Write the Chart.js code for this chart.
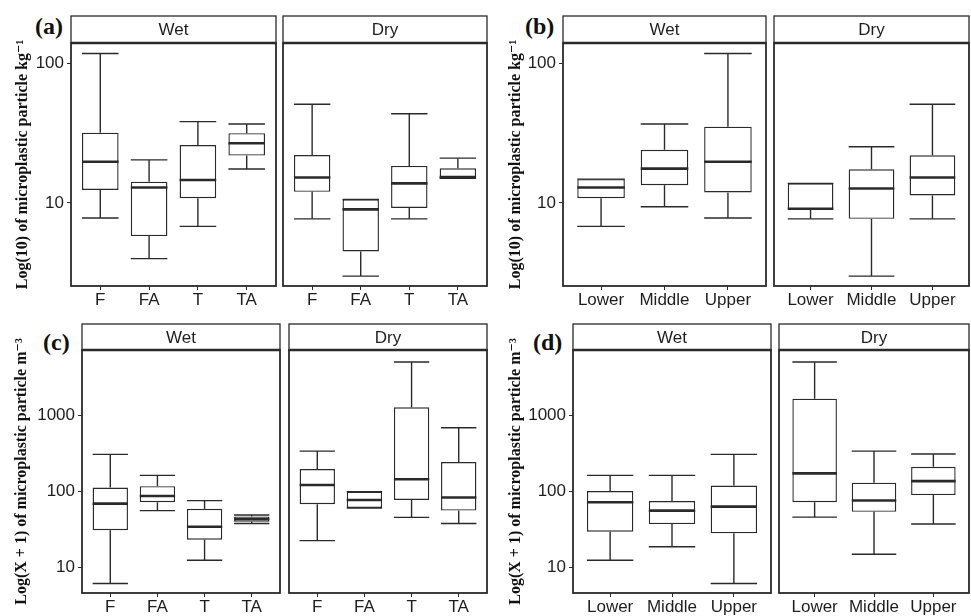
<!DOCTYPE html>
<html>
<head>
<meta charset="utf-8">
<script src="https://cdn.jsdelivr.net/npm/chart.js@4.4.1/dist/chart.umd.min.js"></script>
<style>
  body { margin: 0; background: #fff; width: 971px; height: 616px; position: relative; overflow: hidden; }
  canvas { position: absolute; }
  .tag { position: absolute; font-family: 'Liberation Serif', serif; font-weight: bold; font-size: 24px; color: #111; line-height: 1; }
</style>
</head>
<body>
<div class="tag" style="left:35px;top:14px">(a)</div>
<div class="tag" style="left:525px;top:14px">(b)</div>
<div class="tag" style="left:43px;top:330px">(c)</div>
<div class="tag" style="left:533px;top:330px">(d)</div>
<script>
const siteCats = ['F', 'FA', 'T', 'TA'];
const zoneCats = ['Lower', 'Middle', 'Upper'];
const kgTicks = [10, 100];
const m3Ticks = [10, 100, 1000];
const kgTitle = 'Log(10) of microplastic particle kg\u207B\u00B9';
const m3Title = 'Log(X + 1) of microplastic particle m\u207B\u00B3';

// each row: [min, q1, median, q3, max]
const aWet = [[7.8, 12.4, 19.7, 31.8, 117], [4.0, 5.8, 12.9, 14.2, 20.3], [6.8, 10.8, 14.6, 25.9, 38.1], [17.5, 21.8, 26.7, 31.5, 36.7]];
const aDry = [[7.7, 12.0, 15.2, 22.0, 50.7], [3.0, 4.5, 9.0, 10.6, 10.6], [7.7, 9.2, 13.8, 18.4, 43.4], [15.0, 15.0, 15.3, 17.7, 20.9]];
const bWet = [[6.8, 10.8, 12.9, 14.8, 14.8], [9.4, 13.4, 17.6, 24.0, 36.7], [7.8, 11.9, 19.7, 35.1, 117]];
const bDry = [[7.7, 9.0, 9.1, 13.8, 13.8], [3.0, 7.7, 12.7, 17.4, 25.2], [7.7, 11.3, 15.2, 21.9, 50.7]];
const cWet = [[6.2, 31, 69, 112, 305], [56, 72, 87, 117, 162], [12.5, 23.3, 34.4, 59, 75.5], [38, 40, 43.5, 47, 49]];
const cDry = [[22.6, 68, 121, 196, 337], [60.5, 60.5, 77, 99, 99], [45.6, 77, 144, 1260, 4940], [38, 56, 83, 242, 682]];
const dWet = [[12.5, 29.6, 72, 101, 162], [18.8, 37.3, 56, 74.7, 162], [6.2, 28.2, 63, 119, 305]];
const dDry = [[46, 72, 172, 1636, 4940], [15, 54, 76, 130, 337], [37.3, 89.5, 136, 210, 308]];

const LINE = '#2a2a2a';
const TEXT = '#1e1e1e';
const SANS = "'Liberation Sans', Arial, sans-serif";
const SERIF = "'Liberation Serif', 'DejaVu Serif', serif";
const X_AXIS_H = 26;
const BOX_W = 0.75;

const facets = [
  { cats: siteCats, stats: aWet, strip: 'Wet', ticks: kgTicks, yMin: 2.55, yMax: 139, title: kgTitle, axisLeft: 13, stripTop: 16, plotTop: 43, plotBottom: 286, plotL: 71, plotR: 276 },
  { cats: siteCats, stats: aDry, strip: 'Dry', ticks: kgTicks, yMin: 2.55, yMax: 139, stripTop: 16, plotTop: 43, plotBottom: 286, plotL: 283, plotR: 487 },
  { cats: zoneCats, stats: bWet, strip: 'Wet', ticks: kgTicks, yMin: 2.55, yMax: 139, title: kgTitle, axisLeft: 506, stripTop: 16, plotTop: 43, plotBottom: 286, plotL: 563, plotR: 766 },
  { cats: zoneCats, stats: bDry, strip: 'Dry', ticks: kgTicks, yMin: 2.55, yMax: 139, stripTop: 16, plotTop: 43, plotBottom: 286, plotL: 774, plotR: 969 },
  { cats: siteCats, stats: cWet, strip: 'Wet', ticks: m3Ticks, yMin: 4.66, yMax: 7110, title: m3Title, axisLeft: 12, stripTop: 324, plotTop: 350, plotBottom: 593, plotL: 82, plotR: 280 },
  { cats: siteCats, stats: cDry, strip: 'Dry', ticks: m3Ticks, yMin: 4.66, yMax: 7110, stripTop: 324, plotTop: 350, plotBottom: 593, plotL: 289, plotR: 487 },
  { cats: zoneCats, stats: dWet, strip: 'Wet', ticks: m3Ticks, yMin: 4.66, yMax: 7110, title: m3Title, axisLeft: 506, stripTop: 324, plotTop: 350, plotBottom: 593, plotL: 573, plotR: 771 },
  { cats: zoneCats, stats: dDry, strip: 'Dry', ticks: m3Ticks, yMin: 4.66, yMax: 7110, stripTop: 324, plotTop: 350, plotBottom: 593, plotL: 779, plotR: 969 }
];

function line(ctx, x1, y1, x2, y2) {
    ctx.beginPath();
    ctx.moveTo(x1, y1);
    ctx.lineTo(x2, y2);
    ctx.stroke();
}

// strip, whiskers, medians and panel frame, all placed through the chart's scales
function facetPlugin(f) {
    return {
        id: 'facet',
        beforeDatasetsDraw(chart) {
            const ctx = chart.ctx;
            const ca = chart.chartArea;
            const xs = chart.scales.x;
            const ys = chart.scales.y;
            ctx.save();
            // strip
            ctx.fillStyle = '#fff';
            ctx.fillRect(ca.left, 1, ca.right - ca.left, ca.top - 1);
            ctx.strokeStyle = LINE;
            ctx.lineWidth = 1.3;
            ctx.strokeRect(ca.left, 1, ca.right - ca.left, ca.top - 1);
            ctx.fillStyle = TEXT;
            ctx.font = '17px ' + SANS;
            ctx.textAlign = 'center';
            ctx.textBaseline = 'middle';
            ctx.fillText(f.strip, (ca.left + ca.right) / 2, (ca.top + 1) / 2 + 1);
            // whiskers
            ctx.lineWidth = 1.4;
            f.stats.forEach((s, i) => {
                const x = xs.getPixelForValue(i + 1);
                const hw = xs.getPixelForValue(i + 1 + BOX_W / 2) - x;
                line(ctx, x, ys.getPixelForValue(s[4]), x, ys.getPixelForValue(s[3]));
                line(ctx, x, ys.getPixelForValue(s[1]), x, ys.getPixelForValue(s[0]));
                line(ctx, x - hw, ys.getPixelForValue(s[4]), x + hw, ys.getPixelForValue(s[4]));
                line(ctx, x - hw, ys.getPixelForValue(s[0]), x + hw, ys.getPixelForValue(s[0]));
            });
            ctx.restore();
        },
        afterDatasetsDraw(chart) {
            const ctx = chart.ctx;
            const ca = chart.chartArea;
            const xs = chart.scales.x;
            const ys = chart.scales.y;
            ctx.save();
            ctx.strokeStyle = LINE;
            ctx.lineWidth = 2.6;
            f.stats.forEach((s, i) => {
                const x = xs.getPixelForValue(i + 1);
                const hw = xs.getPixelForValue(i + 1 + BOX_W / 2) - x;
                line(ctx, x - hw, ys.getPixelForValue(s[2]), x + hw, ys.getPixelForValue(s[2]));
            });
            ctx.lineWidth = 1.8;
            ctx.strokeRect(ca.left, ca.top, ca.right - ca.left, ca.bottom - ca.top);
            ctx.lineWidth = 2.4;
            line(ctx, ca.left, ca.top, ca.right, ca.top);
            ctx.restore();
        }
    };
}

function makeFacet(f) {
    const hasAxis = f.axisLeft !== undefined;
    const left = hasAxis ? f.axisLeft : f.plotL - 2;
    const top = f.stripTop - 1;
    const w = f.plotR + 2 - left;
    const h = f.plotBottom + X_AXIS_H - top;
    const c = document.createElement('canvas');
    c.width = w;
    c.height = h;
    c.style.left = left + 'px';
    c.style.top = top + 'px';
    c.style.width = w + 'px';
    c.style.height = h + 'px';
    document.body.appendChild(c);

    new Chart(c, {
        type: 'bar',
        data: {
            datasets: [{
                data: f.stats.map((s, i) => ({ x: i + 1, y: [s[1], s[3]] })),
                backgroundColor: '#fff',
                borderColor: LINE,
                borderWidth: 1.4,
                borderSkipped: false,
                barPercentage: BOX_W,
                categoryPercentage: 1,
                grouped: false
            }]
        },
        options: {
            responsive: false,
            animation: false,
            devicePixelRatio: 1,
            layout: { padding: { top: f.plotTop - top, left: hasAxis ? 0 : 2, right: 2, bottom: 0 } },
            plugins: { legend: { display: false }, tooltip: { enabled: false } },
            scales: {
                x: {
                    type: 'linear',
                    min: 0.4,
                    max: f.cats.length + 0.6,
                    offset: false,
                    grid: { offset: false, drawOnChartArea: false, tickLength: 4, color: LINE, tickColor: LINE },
                    border: { display: false },
                    afterBuildTicks: s => { s.ticks = f.cats.map((_, i) => ({ value: i + 1 })); },
                    afterFit: s => { s.height = X_AXIS_H; },
                    ticks: {
                        autoSkip: false, maxRotation: 0, padding: 0, color: TEXT,
                        font: { family: SANS, size: 17 },
                        callback: v => f.cats[Math.round(v) - 1]
                    }
                },
                y: {
                    type: 'logarithmic',
                    min: f.yMin,
                    max: f.yMax,
                    display: hasAxis,
                    grid: { drawOnChartArea: false, tickLength: 4, color: LINE, tickColor: LINE },
                    border: { display: false },
                    afterBuildTicks: s => { s.ticks = f.ticks.map(v => ({ value: v })); },
                    afterFit: s => { if (hasAxis) s.width = f.plotL - left; },
                    ticks: {
                        padding: 3, color: TEXT,
                        font: { family: SANS, size: 17 },
                        callback: v => String(v)
                    },
                    title: {
                        display: hasAxis,
                        text: f.title || '',
                        color: '#111',
                        padding: 0,
                        font: { family: SERIF, weight: 'bold', size: 16 }
                    }
                }
            }
        },
        plugins: [facetPlugin(f)]
    });
}

facets.forEach(makeFacet);
</script>
</body>
</html>
